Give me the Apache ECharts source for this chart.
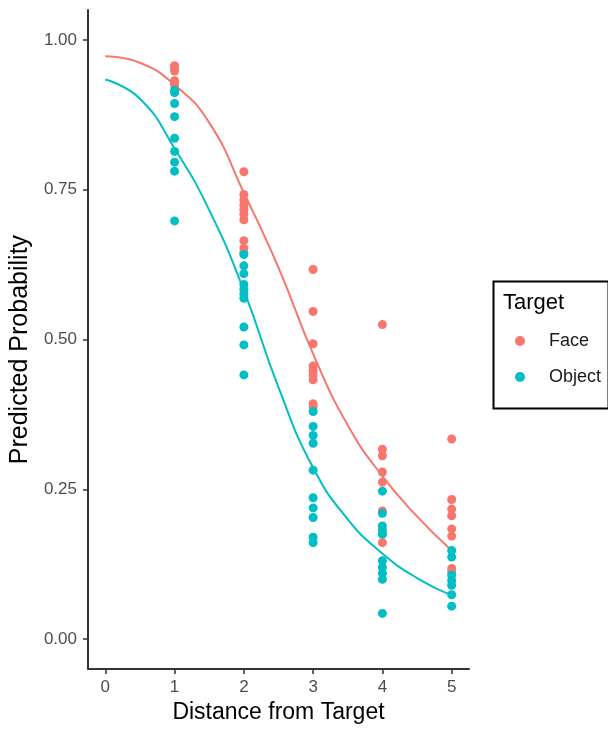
<!DOCTYPE html>
<html>
<head>
<meta charset="utf-8">
<script src="https://cdn.jsdelivr.net/npm/echarts@6/dist/echarts.min.js"></script>
<style>
html,body{margin:0;padding:0;background:#fff;}
#c{width:608px;height:729px;}
</style>
</head>
<body>
<div id="c"></div>
<script>
// ---- data ----
const xTicks = [0, 1, 2, 3, 4, 5];
const yTicks = [0, 0.25, 0.5, 0.75, 1];
const seriesNames = ['Face', 'Object'];

const faceX1 = [0.957, 0.952, 0.948, 0.932, 0.928, 0.924];
const faceX2 = [0.780, 0.742, 0.733, 0.725, 0.717, 0.709, 0.700, 0.665, 0.653, 0.645];
const faceX3 = [0.617, 0.547, 0.493, 0.456, 0.448, 0.441, 0.433, 0.393, 0.388];
const faceX4 = [0.525, 0.317, 0.306, 0.279, 0.262, 0.214, 0.176, 0.161];
const faceX5 = [0.334, 0.233, 0.217, 0.206, 0.184, 0.172, 0.118, 0.112];

const objX1 = [0.916, 0.912, 0.894, 0.872, 0.836, 0.814, 0.796, 0.781, 0.698];
const objX2 = [0.642, 0.623, 0.610, 0.592, 0.584, 0.576, 0.569, 0.521, 0.491, 0.441];
const objX3 = [0.380, 0.355, 0.340, 0.327, 0.282, 0.236, 0.219, 0.203, 0.170, 0.161];
const objX4 = [0.247, 0.210, 0.189, 0.182, 0.175, 0.131, 0.120, 0.110, 0.100, 0.043];
const objX5 = [0.148, 0.137, 0.107, 0.098, 0.090, 0.074, 0.055];

const curveX = [0, 0.5, 1, 1.5, 2, 2.5, 3, 3.5, 4, 4.5, 5];
const faceCurve = [0.973, 0.962, 0.925, 0.862, 0.745, 0.620, 0.476, 0.357, 0.272, 0.205, 0.148];
const objCurve  = [0.934, 0.902, 0.819, 0.716, 0.582, 0.420, 0.286, 0.200, 0.143, 0.102, 0.073];

// ---- build ----
function pts(groups) {
  const out = [];
  groups.forEach((g, i) => g.forEach(v => out.push([i + 1, v])));
  return out;
}
const facePts = pts([faceX1, faceX2, faceX3, faceX4, faceX5]);
const objPts = pts([objX1, objX2, objX3, objX4, objX5]);
const faceLine = curveX.map((x, i) => [x, faceCurve[i]]);
const objLine = curveX.map((x, i) => [x, objCurve[i]]);

const FACE = '#F8766D', OBJ = '#00BFC4';
const FONT = '"Liberation Sans", Arial, sans-serif';

const chart = echarts.init(document.getElementById('c'), null, {renderer: 'canvas'});
chart.setOption({
  animation: false,
  backgroundColor: '#fff',
  textStyle: {fontFamily: FONT},
  grid: {left: 87, right: 139, top: 10, bottom: 55, containLabel: false},
  xAxis: {
    type: 'value', min: -0.25, max: 5.25,
    name: 'Distance from Target', nameLocation: 'middle', nameGap: 31,
    nameTextStyle: {fontSize: 23, color: '#000', fontFamily: FONT},
    axisLine: {show: true, onZero: false, lineStyle: {color: '#333', width: 2}},
    axisTick: {show: true, customValues: xTicks, length: 5, lineStyle: {color: '#333', width: 1.5}},
    axisLabel: {customValues: xTicks, margin: 10, fontSize: 17, color: '#4D4D4D', fontFamily: FONT},
    splitLine: {show: false}
  },
  yAxis: {
    type: 'value', min: -0.05, max: 1.05,
    name: 'Predicted Probability', nameLocation: 'middle', nameGap: 54, nameRotate: 90,
    nameTextStyle: {fontSize: 25, color: '#000', fontFamily: FONT, padding: [0, 20, 0, 0]},
    axisLine: {show: true, onZero: false, lineStyle: {color: '#333', width: 2}},
    axisTick: {show: true, customValues: yTicks, length: 5, lineStyle: {color: '#333', width: 1.5}},
    axisLabel: {customValues: yTicks, margin: 11, fontSize: 17, color: '#4D4D4D', fontFamily: FONT,
      formatter: v => v.toFixed(2)},
    splitLine: {show: false}
  },
  legend: {
    data: seriesNames,
    orient: 'vertical', left: 515, top: 332, padding: 0,
    itemWidth: 10, itemHeight: 10, itemGap: 18, icon: 'circle',
    textStyle: {fontSize: 18, lineHeight: 18, color: '#1a1a1a', fontFamily: FONT, padding: [0, 0, 0, 19]}
  },
  graphic: [
    {type: 'rect', left: 491, top: 279, shape: {width: 115, height: 127},
      style: {fill: 'none', stroke: '#000', lineWidth: 2}, z: 10},
    {type: 'text', left: 503, top: 292,
      style: {text: 'Target', fontSize: 22, fill: '#000', fontFamily: FONT}, z: 10}
  ],
  series: [
    {name: 'FaceCurve', type: 'line', data: faceLine, smooth: 0.5, showSymbol: false,
      lineStyle: {color: FACE, width: 2}, itemStyle: {color: FACE}, z: 2},
    {name: 'ObjectCurve', type: 'line', data: objLine, smooth: 0.5, showSymbol: false,
      lineStyle: {color: OBJ, width: 2}, itemStyle: {color: OBJ}, z: 2},
    {name: 'Face', type: 'scatter', data: facePts, symbolSize: 9,
      itemStyle: {color: FACE, opacity: 1}, z: 3},
    {name: 'Object', type: 'scatter', data: objPts, symbolSize: 9,
      itemStyle: {color: OBJ, opacity: 1}, z: 4}
  ]
});
</script>
</body>
</html>
